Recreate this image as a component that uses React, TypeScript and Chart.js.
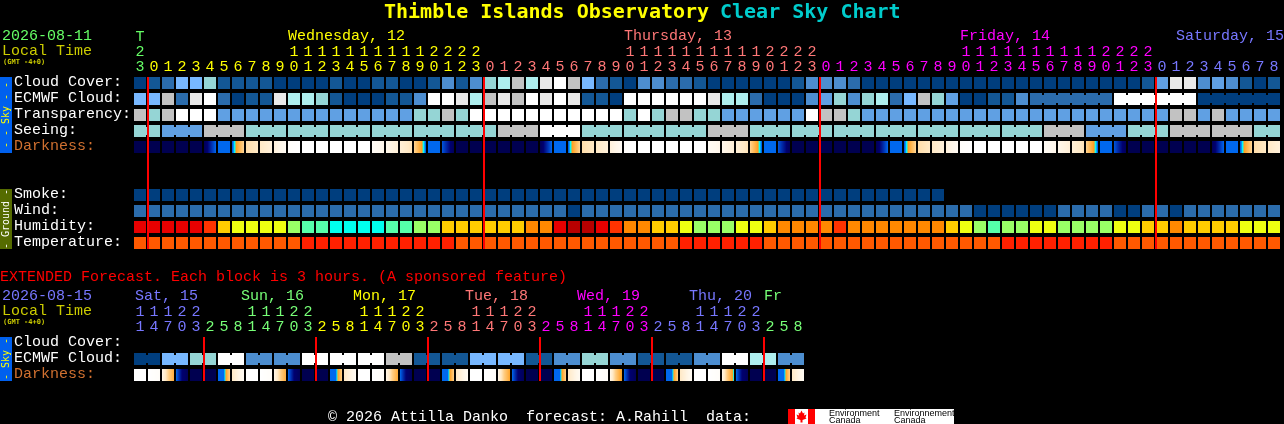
import React, { useEffect, useRef } from "react";
import { Chart, registerables } from "chart.js";

Chart.register(...registerables);

// ---------- main forecast values (one per hourly column) ----------
const mainHourLabels: string[] = ["23","0","1","2","3","4","5","6","7","8","9","10","11","12","13","14","15","16","17","18","19","20","21","22","23","0","1","2","3","4","5","6","7","8","9","10","11","12","13","14","15","16","17","18","19","20","21","22","23","0","1","2","3","4","5","6","7","8","9","10","11","12","13","14","15","16","17","18","19","20","21","22","23","0","1","2","3","4","5","6","7","8"];
const mainHourDays: number[] = [0,1,1,1,1,1,1,1,1,1,1,1,1,1,1,1,1,1,1,1,1,1,1,1,1,2,2,2,2,2,2,2,2,2,2,2,2,2,2,2,2,2,2,2,2,2,2,2,2,3,3,3,3,3,3,3,3,3,3,3,3,3,3,3,3,3,3,3,3,3,3,3,3,4,4,4,4,4,4,4,4,4];
const rowNames: string[] = ["Cloud Cover:","ECMWF Cloud:","Transparency:","Seeing:","Darkness:","","","Smoke:","Wind:","Humidity:","Temperature:"];
const midnightColumns: number[] = [1,25,49,73];

const cloudCover: number[] = [0,1,2,5,5,6,1,1,1,1,0,0,0,0,1,0,0,1,1,0,0,1,3,1,3,6,7,8,7,9,10,8,5,2,1,0,3,3,2,2,1,0,0,0,0,0,0,1,3,3,3,2,0,0,0,0,0,0,0,0,0,0,0,0,0,0,0,0,0,0,0,0,1,4,9,9,3,4,3,1,0,1];
const ecmwfCloud: number[] = [5,5,8,2,9,10,2,0,1,1,9,7,7,6,1,0,0,0,1,1,3,10,10,9,7,8,9,8,10,9,10,9,1,1,0,10,10,10,10,10,10,9,7,7,2,0,0,0,3,4,6,3,6,7,2,5,8,6,4,0,0,1,1,3,2,2,2,2,2,2,10,10,10,10,10,10,0,0,0,0,0,0];
const transparency: number[] = [8,6,8,10,10,10,4,4,4,4,4,4,4,4,4,4,4,4,4,4,6,6,8,6,10,10,10,10,10,10,10,10,10,10,10,6,10,6,8,8,6,6,4,4,4,4,4,4,10,8,8,6,4,4,4,4,4,4,4,4,4,4,4,4,4,4,4,4,4,4,4,4,4,4,8,8,4,8,4,4,4,4];
const seeing: number[] = [6,6,4,4,4,8,8,8,6,6,6,6,6,6,6,6,6,6,6,6,6,6,6,6,6,6,8,8,8,10,10,10,6,6,6,6,6,6,6,6,6,8,8,8,6,6,6,6,6,6,6,6,6,6,6,6,6,6,6,6,6,6,6,6,6,8,8,8,4,4,4,6,6,6,8,8,8,8,8,8,6,6];
const darkness: number[][] = [[0,0],[0,0],[0,0],[0,0],[0,0],[0.2,3],[3,3],[2.7,6.4],[6.6,7],[7,7.6],[7.6,8.5],[8.8,9],[9,9],[9,9],[9,9],[9,9],[9,9],[8.6,8.1],[8.1,7.5],[7.5,6.8],[6.3,2.8],[3,3],[2.7,0.3],[0,0],[0,0],[0,0],[0,0],[0,0],[0,0],[0.2,3],[3,3],[2.7,6.4],[6.6,7],[7,7.6],[7.6,8.5],[8.8,9],[9,9],[9,9],[9,9],[9,9],[9,9],[8.6,8.1],[8.1,7.5],[7.5,6.8],[6.3,2.8],[3,3],[2.7,0.3],[0,0],[0,0],[0,0],[0,0],[0,0],[0,0],[0.2,3],[3,3],[2.7,6.4],[6.6,7],[7,7.6],[7.6,8.5],[8.8,9],[9,9],[9,9],[9,9],[9,9],[9,9],[8.6,8.1],[8.1,7.5],[7.5,6.8],[6.3,2.8],[3,3],[2.7,0.3],[0,0],[0,0],[0,0],[0,0],[0,0],[0,0],[0.2,3],[3,3],[2.7,6.4],[6.6,7],[7,7.6]];
const smoke: number[] = [0,0,0,0,0,0,0,0,0,0,0,0,0,0,0,0,0,0,0,0,0,0,0,0,0,0,0,0,0,0,0,0,0,0,0,0,0,0,0,0,0,0,0,0,0,0,0,0,0,0,0,0,0,0,0,0,0,0];
const wind: number[] = [2,2,2,2,2,2,2,2,2,2,2,2,2,2,2,2,2,2,2,2,2,2,2,2,2,2,2,2,2,2,2,0,2,2,2,2,2,2,2,2,2,2,2,2,2,2,2,2,2,2,2,2,2,2,2,2,2,2,2,2,0,0,0,0,0,0,2,2,2,2,0,0,2,2,0,2,2,2,2,2,2,2];
const humidity: number[] = [1,1,1,1,1,2,4,5,5,5,5,6,7,7,8,8,8,8,7,7,6,6,4,4,4,4,4,4,3,3,1,0,0,1,2,3,3,4,4,5,6,6,6,5,5,4,3,3,3,3,2,3,3,3,3,3,3,3,4,5,6,7,6,6,5,5,6,6,6,6,5,5,4,4,3,4,4,4,4,5,5,5];
const temperature: number[] = [0,0,0,0,0,0,0,0,0,0,0,0,1,1,1,1,1,1,1,1,1,1,1,0,0,0,0,0,0,0,0,0,0,0,0,0,0,0,0,1,1,1,1,1,1,0,0,0,0,0,0,0,0,0,0,0,0,0,0,0,0,0,1,1,1,1,1,1,1,1,0,0,0,0,0,0,0,0,0,0,0,0];

// ---------- extended forecast values (one per 3-hour column) ----------
const extHourLabels: string[] = ["11","14","17","20","23","2","5","8","11","14","17","20","23","2","5","8","11","14","17","20","23","2","5","8","11","14","17","20","23","2","5","8","11","14","17","20","23","2","5","8","11","14","17","20","23","2","5","8"];
const extHourDays: number[] = [4,4,4,4,4,5,5,5,5,5,5,5,5,1,1,1,1,1,1,1,1,2,2,2,2,2,2,2,2,3,3,3,3,3,3,3,3,4,4,4,4,4,4,4,4,5,5,5];
const extRowNames: string[] = ["Cloud Cover:","ECMWF Cloud:","Darkness:"];
const extMidnightColumns: number[] = [5,13,21,29,37,45];
const extEcmwf: number[] = [0,0,5,5,6,6,10,10,3,3,3,3,10,10,10,10,10,10,8,8,1,1,1,1,5,5,5,5,1,1,3,3,6,6,3,3,1,1,1,1,3,3,10,10,7,7,3,3];
const extDarkness: number[][] = [[9,9],[9,8.7],[8,4.6],[3,1,0.3],[0,0],[0,0],[3,3,6.2],[7,8.5],[9,9],[9,8.7],[8,4.6],[3,1,0.3],[0,0],[0,0],[3,3,6.2],[7,8.5],[9,9],[9,8.7],[8,4.4],[3,1,0.3],[0,0],[0,0],[3,3,6.2],[7,8.5],[9,9],[9,8.7],[8,4.2],[3,1,0.3],[0,0],[0,0],[3,3,6.2],[7,8.5],[9,9],[9,8.7],[8,3.8],[3,1,0.3],[0,0],[0,0],[3,3,6.2],[7,8.5],[9,9],[9,8.7],[8,3.4],[3,1,0.3],[0,0],[0,0],[3,3,6.2],[7,8.5]];

// ---------- colour tables ----------
const cloudColours = ["#003E7E","#135795","#2B6CAC","#4D8ED0","#60A0E3","#78B8FF","#95D5D5","#AEEEEE","#C2C2C2","#E9E9E9","#FFFFFF"];
const humidityColours = ["#B80000","#E80000","#FF3300","#FF8800","#FFCC00","#EEFF11","#99FF66","#55FFAA","#00FFEE"];
const temperatureColours = ["#FF5900","#FF2000"];
const dayColours = ["#66FF66","#FFFF00","#FF7777","#FF00FF","#7777FF","#77FF77"];
const darknessRamp: [number, number[]][] = [[0,[0,0,80]],[1,[0,0,112]],[2,[0,48,176]],[3,[0,104,238]],[3.5,[0,255,255]],[4,[255,160,32]],[6,[255,204,128]],[7,[255,233,198]],[8,[255,246,232]],[9,[255,255,255]]];

const MONO = "'DejaVu Sans Mono', monospace";
const THIN = "'Liberation Mono', monospace";
const CELL = 12;
const CELL_HALF = 6 / 16;
const LINK_HALF = 4 / 16;
const RULE_SHIFT = 0.5 - 1 / 14;

function rampColour(v: number): string {
  for (let i = 1; i < darknessRamp.length; i++) {
    const [a, ca] = darknessRamp[i - 1];
    const [b, cb] = darknessRamp[i];
    if (v <= b) {
      const t = Math.max(0, (v - a) / (b - a));
      return `rgb(${ca.map((c, k) => Math.round(c + (cb[k] - c) * t)).join(",")})`;
    }
  }
  return "#FFFFFF";
}

function darknessFill(way: number[][]) {
  return (ctx: any) => {
    const chart = ctx.chart;
    const w = way[ctx.dataIndex];
    const xScale = chart.scales.x;
    if (!w || !xScale) return "#000050";
    const xc = xScale.getPixelForValue(ctx.dataIndex);
    if (!Number.isFinite(xc)) return "#000050";
    const g = chart.ctx.createLinearGradient(xc - CELL / 2, 0, xc + CELL / 2, 0);
    const steps = 24;
    for (let s = 0; s <= steps; s++) {
      const t = s / steps;
      const p = t * (w.length - 1);
      const i = Math.min(w.length - 2, Math.floor(p));
      g.addColorStop(t, rampColour(w[i] + (w[i + 1] - w[i]) * (p - i)));
    }
    return g;
  };
}

function cellSet(values: number[], row: number, colours: string[]) {
  return {
    data: values.map((_, x) => ({ x, y: [row - CELL_HALF, row + CELL_HALF] })),
    backgroundColor: values.map((v) => colours[v]),
    barThickness: CELL,
    grouped: false,
    inflateAmount: 0,
    borderWidth: 0,
  };
}

function linkSet(values: number[], row: number, colours: string[], joined: (x: number) => boolean) {
  const xs = values.map((_, x) => x).filter((x) => x < values.length - 1 && joined(x));
  return {
    data: xs.map((x) => ({ x: x + 0.5, y: [row - LINK_HALF, row + LINK_HALF] })),
    backgroundColor: xs.map((x) => colours[values[x]]),
    barThickness: 2,
    grouped: false,
    inflateAmount: 0,
    borderWidth: 0,
  };
}

function ruleSet(cols: number[], first: number, last: number) {
  return {
    data: cols.map((c) => ({ x: c - RULE_SHIFT, y: [first - CELL_HALF, last + CELL_HALF] })),
    backgroundColor: "#FF0000",
    barThickness: 2,
    grouped: false,
    inflateAmount: 0,
    borderWidth: 0,
  };
}

function hourLines(h: string): string[] {
  return h.length > 1 ? [h[0], h[1]] : [h];
}

type TextItem = { t: string; x: number; y: number; c: string; f?: string };
const BODY = `15px ${THIN}`;

const mainTexts: TextItem[] = [
  { t: "Thimble Islands Observatory", x: 384, y: 18, c: "#FFFF00", f: `bold 20px ${MONO}` },
  { t: "Clear Sky Chart", x: 720, y: 18, c: "#00CCCC", f: `bold 20px ${MONO}` },
  { t: "2026-08-11", x: 2, y: 40, c: "#66FF66" },
  { t: "Local Time", x: 2, y: 55, c: "#CCCC00" },
  { t: "(GMT -4+0)", x: 3, y: 64, c: "#CCCC00", f: `bold 7px ${MONO}` },
  { t: "Wednesday, 12", x: 288, y: 40, c: dayColours[1] },
  { t: "Thursday, 13", x: 624, y: 40, c: dayColours[2] },
  { t: "Friday, 14", x: 960, y: 40, c: dayColours[3] },
  { t: "Saturday, 15", x: 1176, y: 40, c: dayColours[4] },
];
const extTexts: TextItem[] = [
  { t: "EXTENDED Forecast. Each block is 3 hours. (A sponsored feature)", x: 0, y: 13, c: "#FF0000" },
  { t: "2026-08-15", x: 2, y: 32, c: "#7777FF" },
  { t: "Local Time", x: 2, y: 47, c: "#CCCC00" },
  { t: "(GMT -4+0)", x: 3, y: 56, c: "#CCCC00", f: `bold 7px ${MONO}` },
  { t: "Sat, 15", x: 135, y: 32, c: dayColours[4] },
  { t: "Sun, 16", x: 241, y: 32, c: dayColours[5] },
  { t: "Mon, 17", x: 353, y: 32, c: dayColours[1] },
  { t: "Tue, 18", x: 465, y: 32, c: dayColours[2] },
  { t: "Wed, 19", x: 577, y: 32, c: dayColours[3] },
  { t: "Thu, 20", x: 689, y: 32, c: dayColours[4] },
  { t: "Fr", x: 764, y: 32, c: dayColours[5] },
  { t: "\u00A9 2026 Attilla Danko  forecast: A.Rahill  data:", x: 328, y: 153, c: "#FFFFFF" },
];

type SideBar = { top: number; bottom: number; fill: string; ink: string; t: string };
const mainSide: SideBar[] = [
  { top: 77, bottom: 153, fill: "#0060EE", ink: "#FFFF00", t: "- - Sky - -" },
  { top: 189, bottom: 249, fill: "#556B00", ink: "#FFFFFF", t: "- Ground -" },
];
const extSide: SideBar[] = [{ top: 69, bottom: 113, fill: "#0060EE", ink: "#FFFF00", t: "- Sky -" }];

function decoPlugin(texts: TextItem[], side: SideBar[], logo: boolean) {
  return {
    id: "deco",
    afterDraw(chart: any) {
      const c = chart.ctx as CanvasRenderingContext2D;
      c.save();
      c.textBaseline = "alphabetic";
      c.textAlign = "left";
      for (const it of texts) {
        c.font = it.f || BODY;
        c.fillStyle = it.c;
        c.fillText(it.t, it.x, it.y);
      }
      for (const s of side) {
        c.fillStyle = s.fill;
        c.fillRect(0, s.top, 12, s.bottom - s.top);
        c.save();
        c.translate(9, (s.top + s.bottom) / 2);
        c.rotate(-Math.PI / 2);
        c.textAlign = "center";
        c.font = `10px ${MONO}`;
        c.fillStyle = s.ink;
        c.fillText(s.t, 0, 0);
        c.restore();
      }
      if (logo) {
        const top = 141;
        c.fillStyle = "#FFFFFF";
        c.fillRect(788, top, 166, 15);
        c.fillStyle = "#FF0000";
        c.fillRect(788, top, 7, 15);
        c.fillRect(808, top, 7, 15);
        c.beginPath();
        const pts = [[0,-6],[1.5,-3],[3,-4],[2.5,-1],[5,-2],[4,1],[5,2],[1,3.5],[1,6],[-1,6],[-1,3.5],[-5,2],[-4,1],[-5,-2],[-2.5,-1],[-3,-4],[-1.5,-3]];
        pts.forEach(([px, py], i) => (i ? c.lineTo(801.5 + px, top + 7.5 + py) : c.moveTo(801.5 + px, top + 7.5 + py)));
        c.closePath();
        c.fill();
        c.fillStyle = "#000000";
        c.font = `9px 'Liberation Sans', sans-serif`;
        c.fillText("Environment", 829, top + 7);
        c.fillText("Canada", 829, top + 14);
        c.fillText("Environnement", 894, top + 7);
        c.fillText("Canada", 894, top + 14);
      }
      c.restore();
    },
  };
}

function buildChart(
  canvas: HTMLCanvasElement,
  cfg: {
    datasets: any[];
    lines: string[][];
    tickColours: string[];
    rows: string[];
    maxRow: number;
    axisTop: number;
    paddingTop: number;
    paddingBottom: number;
    plugin: any;
  }
) {
  const FONT = { family: "'Liberation Mono'", size: 15, lineHeight: 1 };
  return new Chart(canvas, {
    type: "bar",
    data: { datasets: cfg.datasets },
    plugins: [cfg.plugin],
    options: {
      responsive: false,
      animation: false,
      devicePixelRatio: 1,
      events: [],
      layout: { padding: { left: 14, right: 3, top: cfg.paddingTop, bottom: cfg.paddingBottom } },
      plugins: { legend: { display: false }, tooltip: { enabled: false }, title: { display: false } },
      scales: {
        x: {
          type: "linear",
          position: "top",
          offset: false,
          min: -0.5,
          max: 81.5,
          grid: { display: false, drawTicks: false, offset: false },
          border: { display: false },
          afterBuildTicks: (s: any) => {
            s.ticks = cfg.lines.map((_, i) => ({ value: i }));
          },
          afterFit: (s: any) => {
            s.height = cfg.axisTop - cfg.paddingTop;
            s.paddingLeft = 0;
            s.paddingRight = 0;
          },
          ticks: {
            autoSkip: false,
            maxRotation: 0,
            minRotation: 0,
            padding: 0,
            font: FONT,
            color: (ctx: any) => cfg.tickColours[ctx.index],
            callback: (_v: any, i: number) => cfg.lines[i],
          },
        },
        y: {
          type: "linear",
          reverse: true,
          min: -0.5,
          max: cfg.maxRow + 0.5,
          grid: { display: false, drawTicks: false },
          border: { display: false },
          afterBuildTicks: (s: any) => {
            s.ticks = cfg.rows.map((_, i) => ({ value: i }));
          },
          afterFit: (s: any) => {
            s.width = 119;
          },
          ticks: {
            autoSkip: false,
            crossAlign: "far",
            padding: 0,
            labelOffset: -1,
            font: FONT,
            color: (ctx: any) => (cfg.rows[ctx.index] === "Darkness:" ? "#D07030" : "#FFFFFF"),
            callback: (_v: any, i: number) => cfg.rows[i],
          },
        },
      },
    } as any,
  });
}

export default function App() {
  const topRef = useRef<HTMLCanvasElement>(null);
  const extRef = useRef<HTMLCanvasElement>(null);

  useEffect(() => {
    document.body.style.background = "#000";
    const cloudDatasets = [
      ruleSet(midnightColumns, 0, 10),
      cellSet(cloudCover, 0, cloudColours),
      cellSet(ecmwfCloud, 1, cloudColours),
      linkSet(ecmwfCloud, 1, cloudColours, (x) => x >= 64 && (x - 63) % 6 !== 0),
      cellSet(transparency, 2, cloudColours),
      cellSet(seeing, 3, cloudColours),
      linkSet(seeing, 3, cloudColours, (x) => x === 0 || (x >= 2 && (x - 1) % 3 !== 0)),
      { ...cellSet(darkness.map(() => 0), 4, cloudColours), backgroundColor: darknessFill(darkness) },
      cellSet(smoke, 7, cloudColours),
      cellSet(wind, 8, cloudColours),
      cellSet(humidity, 9, humidityColours),
      cellSet(temperature, 10, temperatureColours),
    ];
    const main = buildChart(topRef.current!, {
      datasets: cloudDatasets,
      lines: mainHourLabels.map((h, i) => (i === 0 ? ["T", ...hourLines(h)] : hourLines(h))),
      tickColours: mainHourDays.map((d) => dayColours[d]),
      rows: rowNames,
      maxRow: 10,
      axisTop: 75,
      paddingTop: 0,
      paddingBottom: 17,
      plugin: decoPlugin(mainTexts, mainSide, false),
    });
    const ext = buildChart(extRef.current!, {
      datasets: [
        ruleSet(extMidnightColumns, 0, 2),
        cellSet(extEcmwf, 1, cloudColours),
        linkSet(extEcmwf, 1, cloudColours, (x) => x % 2 === 0),
        { ...cellSet(extDarkness.map(() => 0), 2, cloudColours), backgroundColor: darknessFill(extDarkness) },
      ],
      lines: extHourLabels.map(hourLines),
      tickColours: extHourDays.map((d) => dayColours[d]),
      rows: extRowNames,
      maxRow: 2,
      axisTop: 67,
      paddingTop: 0,
      paddingBottom: 41,
      plugin: decoPlugin(extTexts, extSide, true),
    });
    return () => {
      main.destroy();
      ext.destroy();
    };
  }, []);

  return (
    <div style={{ position: "fixed", inset: 0, background: "#000", overflow: "hidden" }}>
      <canvas ref={topRef} width={1284} height={268} style={{ position: "absolute", left: 0, top: 0, width: 1284, height: 268 }} />
      <canvas ref={extRef} width={1284} height={156} style={{ position: "absolute", left: 0, top: 268, width: 1284, height: 156 }} />
    </div>
  );
}
